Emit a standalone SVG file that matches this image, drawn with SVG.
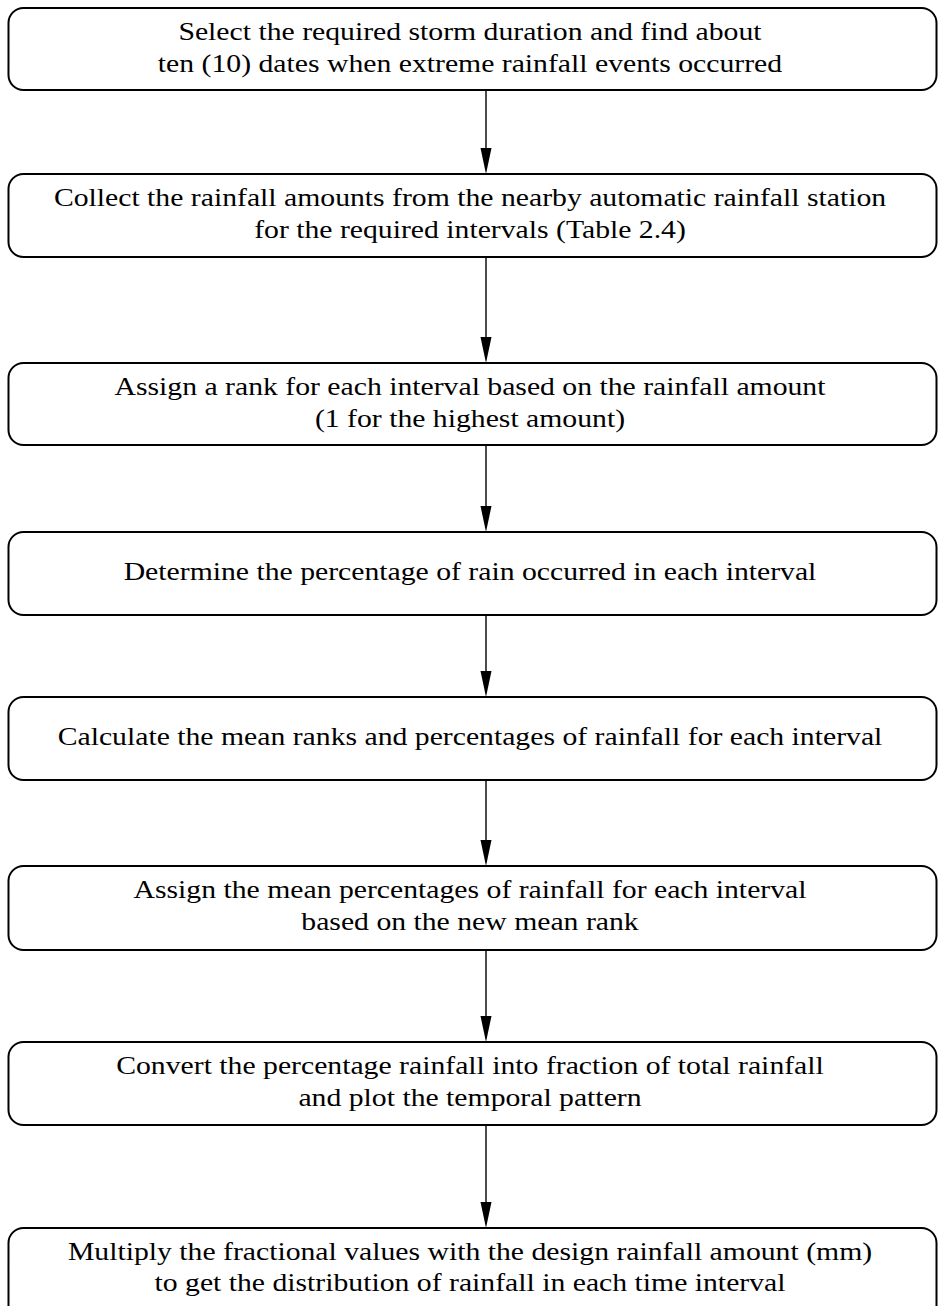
<svg xmlns="http://www.w3.org/2000/svg" width="938" height="1306" viewBox="0 0 938 1306">
<style>
.box{fill:#fff;stroke:#000;stroke-width:2}
.t{font-family:"Liberation Serif","Times New Roman",serif;font-size:26px;fill:#000;text-anchor:middle}
.c{stroke:#000;stroke-width:1.4;fill:none}
.h{fill:#000}
</style>
<rect width="938" height="1306" fill="#fff"/>
<g id="connectors">
<line class="c" x1="486" y1="90" x2="486" y2="149"/>
<path class="h" d="M480.5,148 L491.5,148 L486,174 Z"/>
<line class="c" x1="486" y1="257" x2="486" y2="338"/>
<path class="h" d="M480.5,337 L491.5,337 L486,363 Z"/>
<line class="c" x1="486" y1="445" x2="486" y2="507"/>
<path class="h" d="M480.5,506 L491.5,506 L486,532 Z"/>
<line class="c" x1="486" y1="615" x2="486" y2="672"/>
<path class="h" d="M480.5,671 L491.5,671 L486,697 Z"/>
<line class="c" x1="486" y1="780" x2="486" y2="841"/>
<path class="h" d="M480.5,840 L491.5,840 L486,866 Z"/>
<line class="c" x1="486" y1="950" x2="486" y2="1017"/>
<path class="h" d="M480.5,1016 L491.5,1016 L486,1042 Z"/>
<line class="c" x1="486" y1="1125" x2="486" y2="1203"/>
<path class="h" d="M480.5,1202 L491.5,1202 L486,1228 Z"/>
</g>
<g id="n1">
<rect class="box" x="8.5" y="8" width="928" height="82" rx="15"/>
<g transform="translate(470 0) scale(1.143 1)">
<text class="t" x="0" y="40">Select the required storm duration and find about</text>
<text class="t" x="0" y="72">ten (10) dates when extreme rainfall events occurred</text>
</g>
</g>
<g id="n2">
<rect class="box" x="8.5" y="174" width="928" height="83" rx="15"/>
<g transform="translate(470 0) scale(1.143 1)">
<text class="t" x="0" y="206">Collect the rainfall amounts from the nearby automatic rainfall station</text>
<text class="t" x="0" y="238">for the required intervals (Table 2.4)</text>
</g>
</g>
<g id="n3">
<rect class="box" x="8.5" y="363" width="928" height="82" rx="15"/>
<g transform="translate(470 0) scale(1.143 1)">
<text class="t" x="0" y="395">Assign a rank for each interval based on the rainfall amount</text>
<text class="t" x="0" y="427">(1 for the highest amount)</text>
</g>
</g>
<g id="n4">
<rect class="box" x="8.5" y="532" width="928" height="83" rx="15"/>
<g transform="translate(470 0) scale(1.143 1)">
<text class="t" x="0" y="580">Determine the percentage of rain occurred in each interval</text>
</g>
</g>
<g id="n5">
<rect class="box" x="8.5" y="697" width="928" height="83" rx="15"/>
<g transform="translate(470 0) scale(1.143 1)">
<text class="t" x="0" y="745">Calculate the mean ranks and percentages of rainfall for each interval</text>
</g>
</g>
<g id="n6">
<rect class="box" x="8.5" y="866" width="928" height="84" rx="15"/>
<g transform="translate(470 0) scale(1.143 1)">
<text class="t" x="0" y="898">Assign the mean percentages of rainfall for each interval</text>
<text class="t" x="0" y="930">based on the new mean rank</text>
</g>
</g>
<g id="n7">
<rect class="box" x="8.5" y="1042" width="928" height="83" rx="15"/>
<g transform="translate(470 0) scale(1.143 1)">
<text class="t" x="0" y="1074">Convert the percentage rainfall into fraction of total rainfall</text>
<text class="t" x="0" y="1106">and plot the temporal pattern</text>
</g>
</g>
<g id="n8">
<rect class="box" x="8.5" y="1228" width="928" height="100" rx="15"/>
<g transform="translate(470 0) scale(1.143 1)">
<text class="t" x="0" y="1260">Multiply the fractional values with the design rainfall amount (mm)</text>
<text class="t" x="0" y="1291">to get the distribution of rainfall in each time interval</text>
</g>
</g>
</svg>
